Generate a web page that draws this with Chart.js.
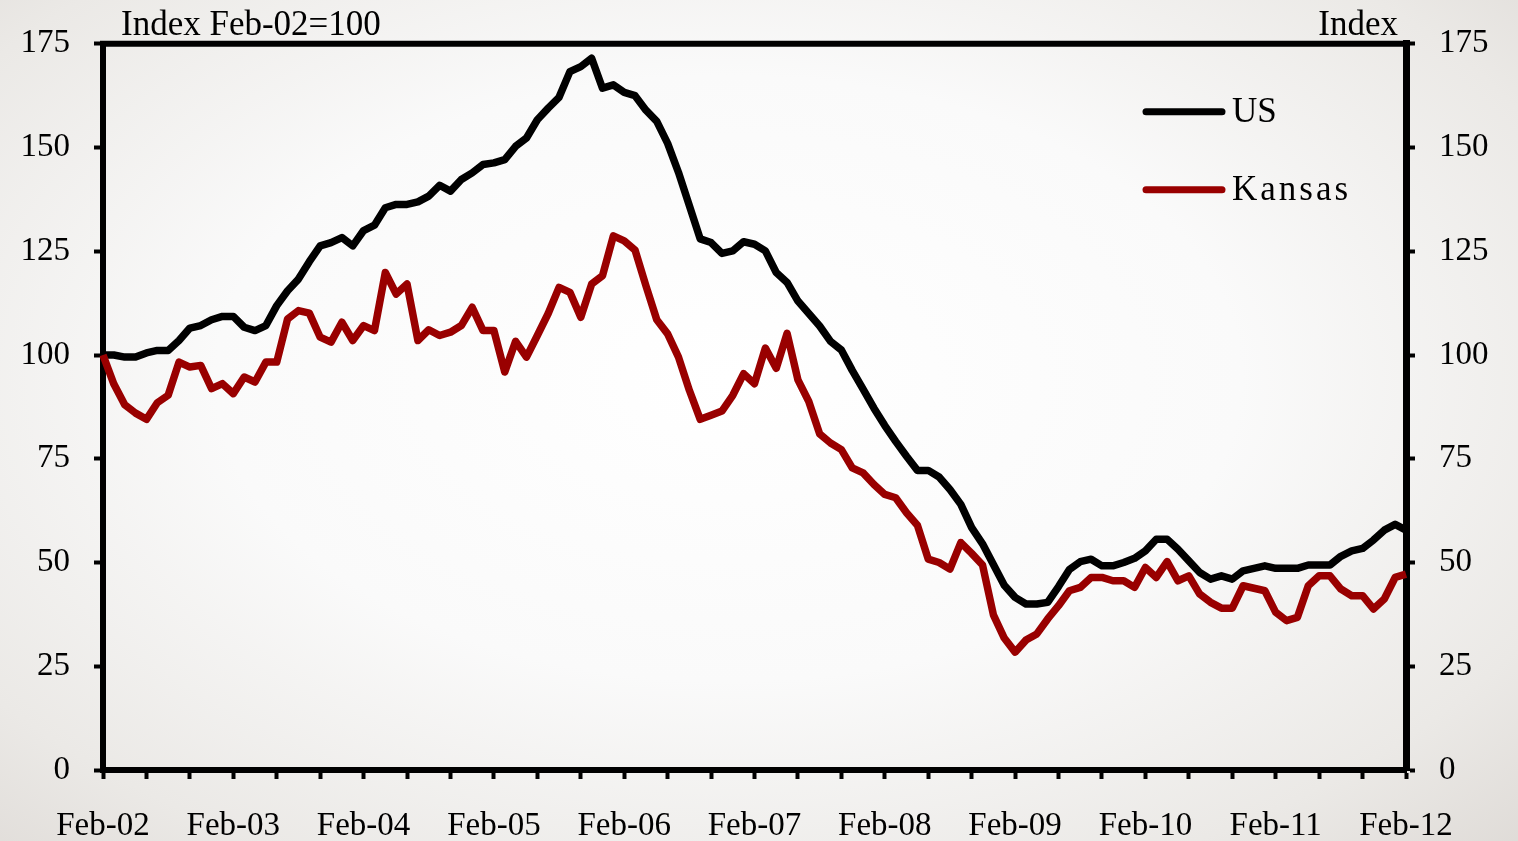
<!DOCTYPE html>
<html>
<head>
<meta charset="utf-8">
<script src="https://cdn.jsdelivr.net/npm/chart.js@4.4.1/dist/chart.umd.min.js"></script>
<style>
  html, body { margin: 0; padding: 0; }
  body {
    width: 1518px; height: 841px; overflow: hidden;
    background: radial-gradient(ellipse 75% 80% at 48% 45%, #ffffff 0%, #fafafa 45%, #ebe9e6 80%, #dedad6 100%);
  }
  #wrap { position: relative; width: 1518px; height: 841px; }
</style>
</head>
<body>
<div id="wrap"><canvas id="houseChart"></canvas></div>
<script>
// monthly categories Feb-02 .. Feb-12
const monthNames = ['Jan','Feb','Mar','Apr','May','Jun','Jul','Aug','Sep','Oct','Nov','Dec'];
const labels = [];
for (let i = 0; i < 121; i++) {
    const m = (1 + i) % 12;
    const yr = 2 + Math.floor((1 + i) / 12);
    labels.push(monthNames[m] + '-' + String(yr).padStart(2, '0'));
}

const usValues = [
    100, 100, 99.5, 99.5, 100.5, 101.1, 101.1, 103.5, 106.5, 107.1, 108.5, 109.3,
    109.3, 106.7, 105.9, 107.1, 111.9, 115.5, 118.3, 122.5, 126.3, 127.1, 128.3, 126.3,
    130, 131.3, 135.5, 136.3, 136.3, 136.9, 138.3, 140.9, 139.5, 142.3, 143.9, 145.9,
    146.3, 147.1, 150.3, 152.3, 156.7, 159.5, 162.1, 168.3, 169.5, 171.5, 164.3, 165.1,
    163.3, 162.5, 159, 156.3, 151, 144, 136, 128, 127.1, 124.5, 125.1, 127.3,
    126.7, 125.1, 119.9, 117.5, 113, 110, 107, 103.3, 101.2, 96.3, 91.8, 87.2,
    83, 79.2, 75.6, 72.2, 72.2, 70.6, 67.6, 64, 58.4, 54.5, 49.5, 44.5,
    41.6, 40, 40, 40.4, 44.2, 48.3, 50.2, 50.8, 49.2, 49.2, 50, 51,
    52.8, 55.6, 55.6, 53.2, 50.4, 47.6, 46, 46.8, 46, 48, 48.6, 49.2,
    48.6, 48.6, 48.6, 49.4, 49.4, 49.4, 51.5, 52.8, 53.4, 55.4, 57.8, 59.2,
    57.8
];

const kansasValues = [
    100, 93, 88, 86, 84.5, 88.5, 90.3, 98.3, 97.1, 97.5, 91.9, 93.1,
    90.7, 94.7, 93.5, 98.3, 98.3, 108.7, 110.7, 110.1, 104.3, 103.1, 107.9, 103.5,
    107.1, 105.9, 119.9, 114.7, 117.1, 103.5, 106.1, 104.7, 105.5, 107.1, 111.5, 105.9,
    105.9, 95.9, 103.3, 99.5, 104.7, 110, 116.3, 115.1, 109.1, 117.1, 119.1, 128.7,
    127.5, 125.3, 116.7, 108.5, 105.1, 99.5, 91.5, 84.5, 85.5, 86.5, 90.3, 95.5,
    93.1, 101.7, 96.8, 105.2, 94, 88.8, 81, 78.8, 77.2, 72.8, 71.6, 68.8,
    66.4, 65.6, 62, 59, 50.8, 50, 48.4, 54.8, 52.2, 49.4, 37.4, 31.8,
    28.4, 31.3, 32.8, 36.4, 39.6, 43.2, 44, 46.4, 46.4, 45.6, 45.6, 44,
    48.8, 46.4, 50.2, 45.6, 46.8, 42.4, 40.4, 39, 39, 44.4, 43.8, 43.2,
    38, 36, 36.8, 44.4, 46.8, 46.8, 43.6, 42, 42, 38.8, 41.2, 46.4,
    47.2
];

const seriesNames = ['US', 'Kansas'];
const seriesColors = ['#000000', '#990000'];
const leftTitle = 'Index Feb-02=100';
const rightTitle = 'Index';

const serif = "'Liberation Serif', 'Times New Roman', serif";
Chart.defaults.font.family = serif;
Chart.defaults.color = '#000';

// frame top line, header texts, legend
const decorPlugin = {
    id: 'decor',
    afterDraw(chart) {
        const ctx = chart.ctx;
        const area = chart.chartArea;
        ctx.save();
        ctx.strokeStyle = '#000';
        ctx.lineWidth = 6;
        ctx.beginPath();
        ctx.moveTo(area.left - 3, area.top);
        ctx.lineTo(area.right + 3, area.top);
        ctx.stroke();

        ctx.fillStyle = '#000';
        ctx.font = '35px ' + serif;
        ctx.textBaseline = 'alphabetic';
        ctx.textAlign = 'left';
        ctx.fillText(leftTitle, area.left + 18, area.top - 9);
        ctx.textAlign = 'right';
        ctx.fillText(rightTitle, area.right - 8, area.top - 9);

        // legend
        chart.data.datasets.forEach((ds, i) => {
            const y = area.top + 68 + i * 78;
            const x0 = area.right - 260;
            ctx.strokeStyle = ds.borderColor;
            ctx.lineWidth = 7;
            ctx.lineCap = 'round';
            ctx.beginPath();
            ctx.moveTo(x0, y);
            ctx.lineTo(x0 + 76, y);
            ctx.stroke();
            ctx.fillStyle = '#000';
            ctx.textAlign = 'left';
            ctx.textBaseline = 'middle';
            ctx.letterSpacing = i === 1 ? '3px' : '0px';
            ctx.fillText(ds.label, x0 + 86, y + 1);
        });
        ctx.restore();
    }
};

new Chart(document.getElementById('houseChart').getContext('2d'), {
    type: 'line',
    data: {
        labels: labels,
        datasets: [
            {
                label: seriesNames[0],
                data: usValues,
                borderColor: seriesColors[0],
                borderWidth: 7.5,
                pointRadius: 0,
                tension: 0,
                borderJoinStyle: 'round',
                yAxisID: 'y',
                order: 1
            },
            {
                label: seriesNames[1],
                data: kansasValues,
                borderColor: seriesColors[1],
                borderWidth: 7.5,
                pointRadius: 0,
                tension: 0,
                borderJoinStyle: 'round',
                yAxisID: 'y',
                order: 0
            }
        ]
    },
    options: {
        responsive: true,
        maintainAspectRatio: false,
        animation: false,
        layout: { padding: { top: 39, left: 0, right: 0, bottom: 0 } },
        plugins: {
            legend: { display: false },
            tooltip: { enabled: false }
        },
        scales: {
            x: {
                type: 'category',
                offset: false,
                afterFit(scale) { scale.height = 71; },
                border: { display: true, color: '#000', width: 6 },
                grid: {
                    drawOnChartArea: false,
                    drawTicks: true,
                    tickLength: 9,
                    tickWidth: 4,
                    tickColor: (c) => (c.index % 4 === 0 ? '#000' : 'rgba(0,0,0,0)')
                },
                ticks: {
                    autoSkip: false,
                    maxRotation: 0,
                    minRotation: 0,
                    padding: 28,
                    font: { size: 33 },
                    callback: function (val, idx) {
                        return idx % 12 === 0 ? this.getLabelForValue(val) : '';
                    }
                }
            },
            y: {
                position: 'left',
                min: 0,
                max: 175,
                afterFit(scale) { scale.width = 103; },
                border: { display: true, color: '#000', width: 6 },
                grid: { drawOnChartArea: false, tickLength: 9, tickWidth: 4, tickColor: '#000' },
                ticks: { stepSize: 25, padding: 24, font: { size: 33 } }
            },
            y1: {
                position: 'right',
                min: 0,
                max: 175,
                afterFit(scale) { scale.width = 112; },
                border: { display: true, color: '#000', width: 7 },
                grid: { drawOnChartArea: false, tickLength: 9, tickWidth: 4, tickColor: '#000' },
                ticks: { stepSize: 25, padding: 24, font: { size: 33 } }
            }
        }
    },
    plugins: [decorPlugin]
});
</script>
</body>
</html>
